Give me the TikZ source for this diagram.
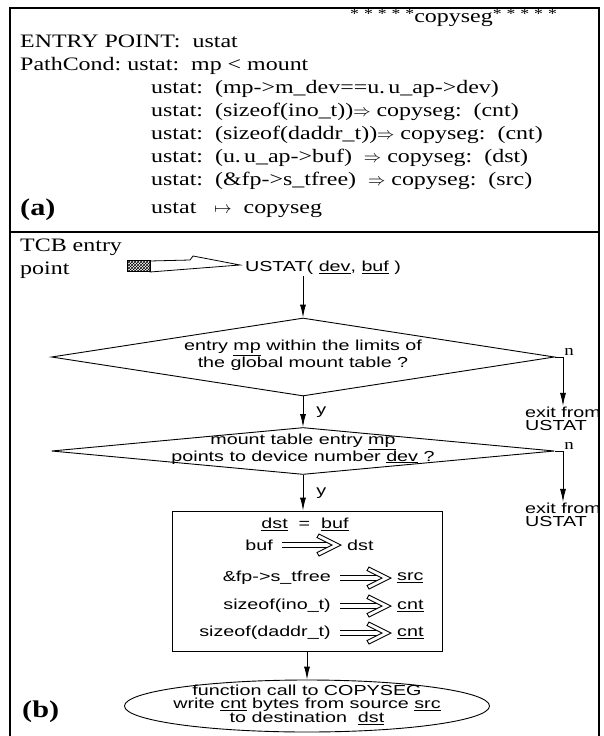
\documentclass[tikz,border=0pt]{standalone}
\usepackage{fontspec}
\setmainfont{Liberation Serif}[FakeStretch=1.26]
\newfontfamily\flowfont{Liberation Sans}[FakeStretch=1.36]
\usetikzlibrary{arrows.meta,positioning,shapes.geometric,patterns,calc}
\newcommand{\und}[1]{\underline{#1}}
\newcommand{\stars}{\raisebox{4pt}{\fontsize{14}{14}\selectfont*\kern5pt*\kern5pt*\kern5pt*\kern5pt*}}
% big hollow "gives" arrow between two named nodes
\newcommand{\givesarrow}[2]{%
  \draw[double,double distance=4pt,line width=0.9pt,shorten <=8pt] (#1.east) -- ($(#2.west)+(-18,0)$);
  \draw[line width=0.9pt,fill=white] ($(#2.west)+(-5,0)$) -- ++(-22,-11) -- ++(-2,3.5) -- ++(15,7.5) -- ++(-15,7.5) -- ++(2,3.5) -- cycle;
}

\begin{document}
\begin{tikzpicture}[x=1pt,y=-1pt,
  spec/.style={font=\fontsize{19}{23}\selectfont,anchor=base west,inner sep=0pt},
  flow/.style={font=\flowfont\fontsize{14.5}{13}\selectfont,align=center,inner sep=1pt},
  decision/.style={draw,diamond,inner sep=0pt,line width=0.9pt},
  conn/.style={-{Latex[length=13pt,width=6pt]},line width=0.9pt},
  nlabel/.style={font=\fontsize{15}{15}\selectfont,inner sep=1pt}]
\useasboundingbox (0,0) rectangle (603,736);
\fill[white] (0,0) rectangle (603,736);
% frame
\draw[line width=1.6pt] (10,736) -- (10,8) -- (599,8) -- (599,736);
\draw[line width=1.2pt] (10,232) -- (599,232);

% (a) path conditions
\node[spec] (hdr) at (350,22) {\stars copyseg\stars};
\node[spec] (entrypt) at (20,47) {ENTRY POINT:\ \ ustat};
\node[spec] (pathcond) at (20,70) {PathCond:\ ustat:\ \ mp < mount};
\foreach \i/\cond in {1/{ustat:\ \ (mp->m\_dev==u.\,u\_ap->dev)},
                      2/{ustat:\ \ (sizeof(ino\_t))$\Rightarrow$ copyseg:\ \ (cnt)},
                      3/{ustat:\ \ (sizeof(daddr\_t))$\Rightarrow$ copyseg:\ \ (cnt)},
                      4/{ustat:\ \ (u.\,u\_ap->buf)\ \ $\Rightarrow$ copyseg:\ \ (dst)},
                      5/{ustat:\ \ (\&fp->s\_tfree)\ \ $\Rightarrow$ copyseg:\ \ (src)}}{
  \node[spec] (cond\i) at (151,70+23*\i) {\cond};
}
\node[spec] (mapsto) at (151,213) {ustat\ \ \ $\mapsto$\ \ copyseg};
\node[spec,font=\fontsize{24}{24}\selectfont\bfseries] (lbla) at (20,215) {(a)};

% (b) flow chart
\node[font=\fontsize{19}{23}\selectfont,align=left,anchor=north west,inner sep=0pt] (tcb) at (20,239) {TCB entry\\point};
\node[flow] (ustat) at (323,268) {USTAT( \und{dev}, \und{buf} )};
\fill[pattern=crosshatch] (127,260) rectangle (150,271);
\draw (127,260) rectangle (150,271);
\draw[line width=0.8pt] (150,261) -- (190,260) -- (193,256) -- (240,265) -- (150,272) -- cycle;

\node[decision,minimum width=503,minimum height=78] (dec1) at (303,357) {};
\node[flow] (dec1txt) at (303,355) {entry \und{mp} within the limits of\\the global mount table ?};
\draw[conn] (ustat.south -| dec1.north) -- (dec1.north);
\node[flow,align=left] (exit1) at (563,419) {exit from\\USTAT};
\draw[conn] (dec1.east) -| node[pos=0.5,above right,nlabel]{n} (exit1.north);

\node[decision,minimum width=503,minimum height=47] (dec2) at (303,451) {};
\node[flow] (dec2txt) at (303,449) {mount table entry \und{mp}\\points to device number \und{dev} ?};
\draw[conn] (dec1.south) -- node[flow,right,xshift=12pt]{y} (dec2.north);
\node[flow,align=left] (exit2) at (563,515) {exit from\\USTAT};
\draw[conn] (dec2.east) -| node[pos=0.5,above right,nlabel]{n} (exit2.north);

\node[draw,line width=0.9pt,minimum width=270,minimum height=140] (copybox) at (307,581) {};
\draw[conn] (dec2.south) -- node[flow,right,xshift=12pt]{y} (dec2.south |- copybox.north);
\node[flow] (asgn) at (305,524) {\und{dst}\ \ =\ \ \und{buf}};
\node[flow,anchor=east] (bufl) at (274,545) {buf};
\node[flow,anchor=west] (dstr) at (346,545) {dst};
\givesarrow{bufl}{dstr}
\foreach \i/\lhs/\rhs/\y in {3/{\&fp->s\_tfree}/src/578,4/{sizeof(ino\_t)}/cnt/606,5/{sizeof(daddr\_t)}/cnt/633}{
  \node[flow,anchor=east] (lhs\i) at (332,\y) {\lhs};
  \node[flow,anchor=west] (rhs\i) at (396,\y) {\und{\rhs}};
  \givesarrow{lhs\i}{rhs\i}
}

\node[draw,ellipse,line width=0.9pt,inner sep=0pt,minimum width=365,minimum height=52] (callfn) at (307,706) {};
\node[flow] (calltxt) at (307,705) {function call to COPYSEG\\write \und{cnt} bytes from source \und{src}\\to destination\ \ \und{dst}};
\draw[conn] (copybox.south) -- (callfn.north);
\node[font=\fontsize{24}{24}\selectfont\bfseries,anchor=west,inner sep=0pt] (lblb) at (22,712) {(b)};
\end{tikzpicture}
\end{document}
